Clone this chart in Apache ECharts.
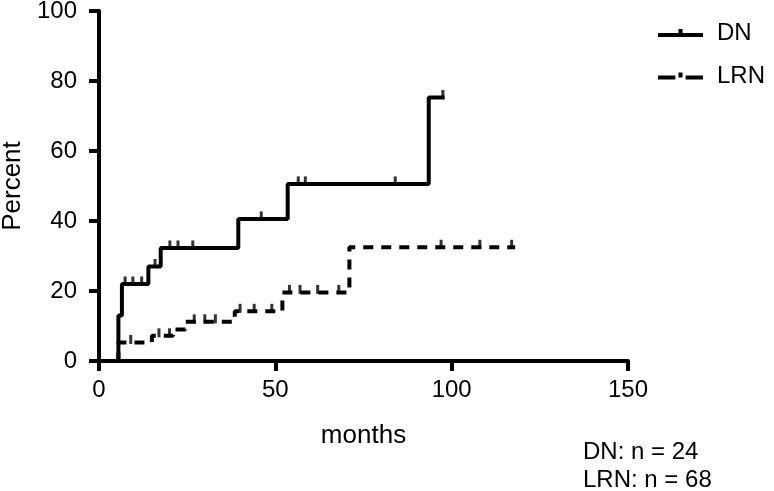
<!DOCTYPE html>
<html>
<head>
<meta charset="utf-8">
<script src="https://cdn.jsdelivr.net/npm/echarts@6/dist/echarts.min.js"></script>
<style>
  html, body {margin: 0; padding: 0; background: #fff;}
  #chart {width: 774px; height: 491px;}
</style>
</head>
<body>
<div id="chart"></div>
<script>
// cumulative percent, step points [month, percent]
const dnSteps = [[0, 0], [5.5, 13], [6.5, 22], [14, 27], [17.5, 32.3], [39.5, 40.6], [53.5, 50.6], [93.5, 75.3], [98, 75.3]]
const lrnSteps = [[0, 0], [5.5, 5.3], [15, 7.2], [21, 9], [24.5, 11.2], [38.5, 14.2], [52, 19.6], [71, 32.5], [118, 32.5]]

// censored marks
const dnCensor = [[7.4, 22], [9.6, 22], [12.1, 22], [15.9, 27], [20.1, 32.3], [22.4, 32.3], [26.6, 32.3], [46, 40.6], [56.5, 50.6], [58.5, 50.6], [84, 50.6], [97.5, 75.3]]
const lrnCensor = [[9, 5.3], [17, 7.2], [20, 7.2], [27, 11.2], [30, 11.2], [33, 11.2], [40, 14.2], [44, 14.2], [49, 14.2], [54, 19.6], [57, 19.6], [62, 19.6], [68, 19.6], [97, 32.5], [108, 32.5], [117, 32.5]]

const xTicks = [0, 50, 100, 150]
const yTicks = [0, 20, 40, 60, 80, 100]
const groupNotes = ['DN: n = 24', 'LRN: n = 68']

const font = 'Liberation Sans, Arial, sans-serif'
const black = '#000'

const iconDN = 'path://M0,6 L44,6 L44,10 L0,10 Z M20,2 L24,2 L24,6 L20,6 Z'
const iconLRN = 'path://M0,6 L17,6 L17,10 L0,10 Z M27,6 L44,6 L44,10 L27,10 Z M20,3 L24,3 L24,8 L20,8 Z'

const chart = echarts.init(document.getElementById('chart'))

const axisCommon = {
    type: 'value',
    axisLine: {show: true, lineStyle: {color: black, width: 4}},
    axisTick: {show: true, length: 10, lineStyle: {color: black, width: 4}},
    axisLabel: {color: black, fontSize: 24, fontFamily: font, margin: 22},
    splitLine: {show: false},
    nameLocation: 'middle',
    nameTextStyle: {color: black, fontSize: 26, fontFamily: font}
}

const option = {
    animation: false,
    backgroundColor: '#fff',
    grid: {left: 99, right: 146, top: 11, bottom: 130, containLabel: false, outerBoundsMode: 'none'},
    xAxis: Object.assign({}, axisCommon, {
        min: xTicks[0],
        max: xTicks[xTicks.length - 1],
        interval: xTicks[1] - xTicks[0],
        axisLabel: {color: black, fontSize: 24, fontFamily: font, margin: 17},
        name: 'months',
        nameGap: 62
    }),
    yAxis: Object.assign({}, axisCommon, {
        min: yTicks[0],
        max: yTicks[yTicks.length - 1],
        interval: yTicks[1] - yTicks[0],
        name: 'Percent',
        nameGap: 70
    }),
    legend: {
        orient: 'vertical',
        left: 653,
        top: 16,
        itemWidth: 45,
        itemHeight: 12,
        itemGap: 19,
        textStyle: {color: black, fontSize: 24, fontFamily: font, padding: [0, 0, 0, 9]},
        data: [
            {name: 'DN', icon: iconDN},
            {name: 'LRN', icon: iconLRN}
        ]
    },
    graphic: [
        {
            type: 'text', left: 583, top: 440,
            style: {text: groupNotes[0], fill: black, fontSize: 24, fontFamily: font}
        },
        {
            type: 'text', left: 583, top: 468,
            style: {text: groupNotes[1], fill: black, fontSize: 24, fontFamily: font}
        }
    ],
    series: [
        {
            name: 'DN',
            type: 'line',
            step: 'end',
            showSymbol: false,
            data: dnSteps,
            itemStyle: {color: black},
            lineStyle: {color: black, width: 4}
        },
        {
            name: 'LRN',
            type: 'line',
            step: 'end',
            showSymbol: false,
            data: lrnSteps,
            itemStyle: {color: black},
            lineStyle: {color: black, width: 4, type: [10, 8]}
        },
        {
            name: 'DN censored',
            type: 'scatter',
            symbol: 'rect',
            symbolSize: [3, 9],
            symbolOffset: [0, -3],
            itemStyle: {color: black},
            data: dnCensor,
            silent: true
        },
        {
            name: 'LRN censored',
            type: 'scatter',
            symbol: 'rect',
            symbolSize: [3, 9],
            symbolOffset: [0, -3],
            itemStyle: {color: black},
            data: lrnCensor,
            silent: true
        }
    ]
}

chart.setOption(option)
</script>
</body>
</html>
